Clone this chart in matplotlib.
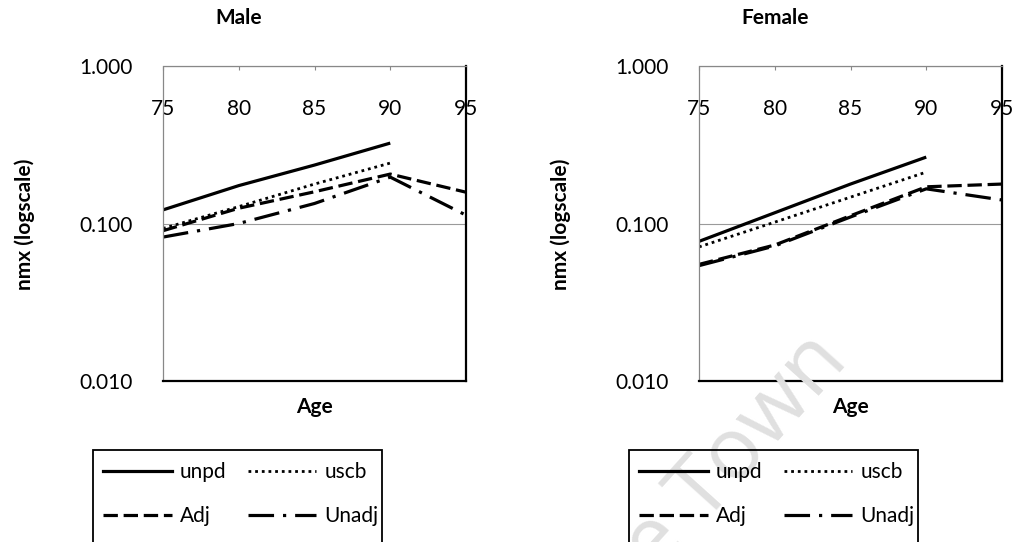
import matplotlib
matplotlib.use('Agg')
import matplotlib.pyplot as plt
from matplotlib.lines import Line2D
from matplotlib.patches import Rectangle

plt.rcParams['font.family'] = ['Lato', 'DejaVu Sans']

# edades (grupos quinquenales) y tasas nmx
ages = [75, 80, 85, 90, 95]

male_unpd = [0.122, 0.174, 0.235, 0.324]
male_uscb = [0.093, 0.128, 0.178, 0.242]
male_adj = [0.090, 0.125, 0.159, 0.206, 0.158]
male_unadj = [0.082, 0.100, 0.134, 0.197, 0.113]

female_unpd = [0.077, 0.117, 0.178, 0.264]
female_uscb = [0.071, 0.102, 0.147, 0.212]
female_adj = [0.055, 0.073, 0.112, 0.171, 0.178]
female_unadj = [0.054, 0.072, 0.110, 0.166, 0.141]

y_ticks = [0.01, 0.1, 1.0]
series_names = ['unpd', 'uscb', 'Adj', 'Unadj']
titles = ['Male', 'Female']

estilos = {
    'unpd': dict(linestyle='-', linewidth=2.3),
    'uscb': dict(linestyle=(0, (1, 1.4)), linewidth=2.0),
    'Adj': dict(linestyle=(0, (4.5, 1.8)), linewidth=2.3),
    'Unadj': dict(linestyle=(0, (8, 2.8, 1, 2.8)), linewidth=2.3),
}

W, H = 1018, 542
fig = plt.figure(figsize=(W / 100, H / 100), dpi=100)


def px_x(x):
    return x / W


def px_y(y):
    return 1 - y / H


def dibujar_panel(left, titulo, datos):
    ax = fig.add_axes([px_x(left), px_y(381), px_x(303), 315 / H])
    ax.set_facecolor('none')
    for nombre, valores in zip(series_names, datos):
        ax.plot(ages[:len(valores)], valores, color='black',
                solid_capstyle='butt', dash_capstyle='butt', **estilos[nombre])

    ax.set_yscale('log')
    ax.set_ylim(0.01, 1.0)
    ax.set_xlim(75, 95)
    ax.set_yticks(y_ticks)
    ax.set_yticklabels(['%.3f' % v for v in y_ticks])
    ax.minorticks_off()
    ax.set_xticks(ages)
    ax.yaxis.grid(True, color='#9a9a9a', linewidth=0.8)
    ax.set_axisbelow(True)

    ax.tick_params(axis='y', length=0, pad=22, labelsize=15)
    ax.tick_params(axis='x', top=True, bottom=False, labeltop=True, labelbottom=False,
                   direction='in', length=3, color='#888888', pad=-38, labelsize=15)

    for lado in ('top', 'left'):
        ax.spines[lado].set_color('#888888')
        ax.spines[lado].set_linestyle((0, (1, 1)))
        ax.spines[lado].set_linewidth(0.9)
    for lado in ('right', 'bottom'):
        ax.spines[lado].set_color('black')
        ax.spines[lado].set_linewidth(1.6)

    ax.text(0.5, -26 / 315, 'Age', transform=ax.transAxes, ha='center', va='center',
            fontsize=15, fontweight='bold')
    fig.text(px_x(left - 138), px_y(224), 'nmx (logscale)', rotation=90,
             ha='center', va='center', fontsize=15, fontweight='bold')
    fig.text(px_x(left + 76), px_y(18), titulo, ha='center', va='center',
             fontsize=15, fontweight='bold')

    # leyenda en dos columnas con marco propio (cortado por el borde inferior)
    orden = ['unpd', 'Adj', 'uscb', 'Unadj']
    handles = [Line2D([], [], color='black', **estilos[n]) for n in orden]
    fig.legend(handles, orden, loc='upper left', ncol=2,
               bbox_to_anchor=(px_x(left - 60), px_y(462)), frameon=False,
               handlelength=3.3, handletextpad=0.4, columnspacing=1.0,
               labelspacing=1.15, borderaxespad=0, borderpad=0, fontsize=15)
    fig.add_artist(Rectangle((px_x(left - 70), -0.02), px_x(289), px_y(450) + 0.02,
                             transform=fig.transFigure, fill=False,
                             edgecolor='black', linewidth=1.3))
    return ax


dibujar_panel(163, titles[0], [male_unpd, male_uscb, male_adj, male_unadj])
dibujar_panel(699, titles[1], [female_unpd, female_uscb, female_adj, female_unadj])

# marca de agua
fig.text(px_x(850), px_y(362), 'Cape Town', rotation=48, rotation_mode='anchor',
         ha='right', va='baseline', fontsize=62, color='#e0e0e0', zorder=0,
         family='Open Sans')

fig.savefig('out.png', dpi=100)
